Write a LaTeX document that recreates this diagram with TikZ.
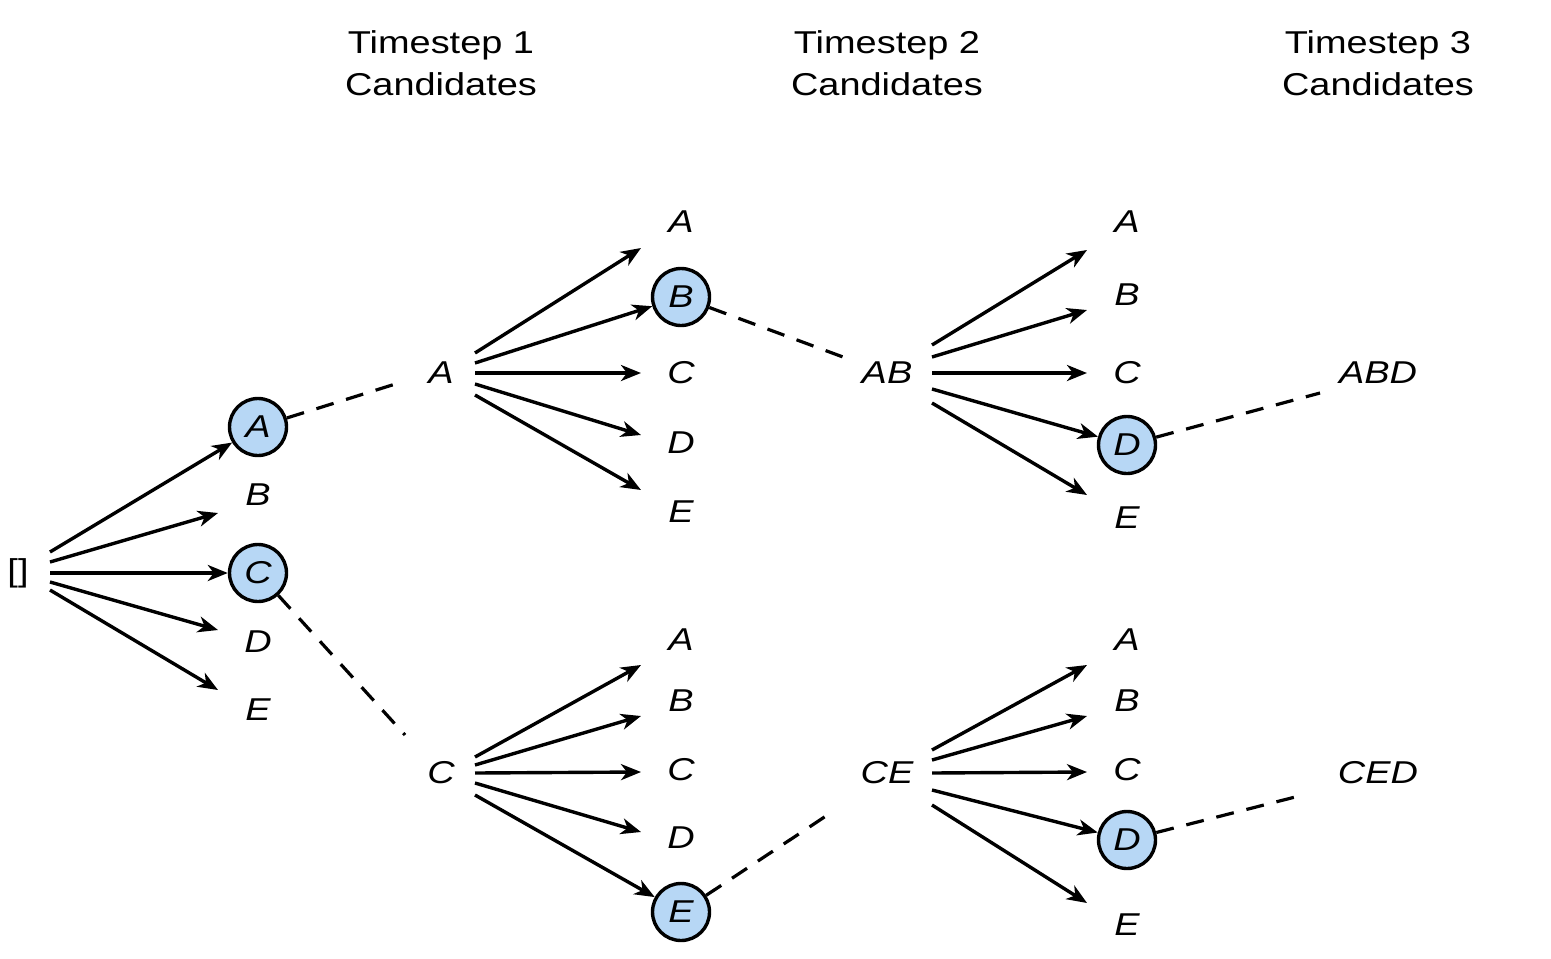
\documentclass[tikz,border=0pt]{standalone}
\usepackage{fontspec}
\setmainfont{Liberation Sans}[FakeStretch=1.2]
\usetikzlibrary{arrows.meta}
\definecolor{selblue}{RGB}{183,215,245}
\begin{document}
\begin{tikzpicture}[x=0.5pt,y=-0.5pt,
  every node/.style={font=\fontsize{15.8pt}{21pt}\selectfont, inner sep=0pt},
  lab/.style={font=\fontsize{15.8pt}{21pt}\selectfont\itshape},
  sel/.style={circle, draw, line width=1.7pt, fill=selblue, minimum size=28.5pt, inner sep=0pt, font=\fontsize{15.8pt}{21pt}\selectfont\itshape},
  arr/.style={line width=1.7pt, -{Stealth[length=10pt,width=8pt,inset=3pt]}},
  dsh/.style={line width=1.6pt, dash pattern=on 9pt off 6.5pt},
  head/.style={align=center}]
\useasboundingbox (0,0) rectangle (1551,958);

% headers
\node[head] (h1) at (441,63) {Timestep 1\\Candidates};
\node[head] (h2) at (887,63) {Timestep 2\\Candidates};
\node[head] (h3) at (1378,63) {Timestep 3\\Candidates};

% root
\node (r) at (18,573) {[]};

% column 1
\node[sel] (n1a) at (258,427) {A};
\node[lab] (n1b) at (258,495) {B};
\node[sel] (n1c) at (258,573) {C};
\node[lab] (n1d) at (258,642) {D};
\node[lab] (n1e) at (258,710) {E};

% column 2
\node[lab] (pA) at (441,373) {A};
\node[lab] (pC) at (441,773) {C};

% column 3 top
\node[lab] (t3a) at (681,222) {A};
\node[sel] (t3b) at (681,297) {B};
\node[lab] (t3c) at (681,373) {C};
\node[lab] (t3d) at (681,443) {D};
\node[lab] (t3e) at (681,512) {E};
% column 3 bottom
\node[lab] (b3a) at (681,640) {A};
\node[lab] (b3b) at (681,701) {B};
\node[lab] (b3c) at (681,770) {C};
\node[lab] (b3d) at (681,838) {D};
\node[sel] (b3e) at (681,912) {E};

% column 4
\node[lab] (pAB) at (887,373) {AB};
\node[lab] (pCE) at (887,773) {CE};

% column 5 top
\node[lab] (t5a) at (1127,222) {A};
\node[lab] (t5b) at (1127,295) {B};
\node[lab] (t5c) at (1127,373) {C};
\node[sel] (t5d) at (1127,445) {D};
\node[lab] (t5e) at (1127,518) {E};
% column 5 bottom
\node[lab] (b5a) at (1127,640) {A};
\node[lab] (b5b) at (1127,701) {B};
\node[lab] (b5c) at (1127,770) {C};
\node[sel] (b5d) at (1127,840) {D};
\node[lab] (b5e) at (1127,925) {E};

% column 6
\node[lab] (pABD) at (1378,373) {ABD};
\node[lab] (pCED) at (1378,773) {CED};

% fan 1
\draw[arr] ([shift={(32,-21)}]r.center) -- (n1a);
\draw[arr] ([shift={(32,-11)}]r.center) -- ([shift={(-40,18)}]n1b.center);
\draw[arr] ([shift={(32,0)}]r.center) -- (n1c);
\draw[arr] ([shift={(32,9)}]r.center) -- ([shift={(-40,-12)}]n1d.center);
\draw[arr] ([shift={(32,17)}]r.center) -- ([shift={(-40,-20)}]n1e.center);

% fan 2
\draw[arr] ([shift={(34,-20)}]pA.center) -- ([shift={(-40,26)}]t3a.center);
\draw[arr] ([shift={(34,-10)}]pA.center) -- (t3b);
\draw[arr] ([shift={(34,0)}]pA.center) -- ([shift={(-40,0)}]t3c.center);
\draw[arr] ([shift={(34,11)}]pA.center) -- ([shift={(-40,-8)}]t3d.center);
\draw[arr] ([shift={(34,22)}]pA.center) -- ([shift={(-40,-22)}]t3e.center);

% fan 3
\draw[arr] ([shift={(45,-28)}]pAB.center) -- ([shift={(-40,28)}]t5a.center);
\draw[arr] ([shift={(45,-16)}]pAB.center) -- ([shift={(-40,15)}]t5b.center);
\draw[arr] ([shift={(45,0)}]pAB.center) -- ([shift={(-40,0)}]t5c.center);
\draw[arr] ([shift={(45,16)}]pAB.center) -- (t5d);
\draw[arr] ([shift={(45,30)}]pAB.center) -- ([shift={(-40,-23)}]t5e.center);

% fan 4
\draw[arr] ([shift={(34,-16)}]pC.center) -- ([shift={(-40,25)}]b3a.center);
\draw[arr] ([shift={(34,-8)}]pC.center) -- ([shift={(-40,15)}]b3b.center);
\draw[arr] ([shift={(34,0)}]pC.center) -- ([shift={(-40,2)}]b3c.center);
\draw[arr] ([shift={(34,10)}]pC.center) -- ([shift={(-40,-6)}]b3d.center);
\draw[arr] ([shift={(34,22)}]pC.center) -- (b3e);

% fan 5
\draw[arr] ([shift={(45,-23)}]pCE.center) -- ([shift={(-40,25)}]b5a.center);
\draw[arr] ([shift={(45,-13)}]pCE.center) -- ([shift={(-40,15)}]b5b.center);
\draw[arr] ([shift={(45,0)}]pCE.center) -- ([shift={(-40,2)}]b5c.center);
\draw[arr] ([shift={(45,17)}]pCE.center) -- (b5d);
\draw[arr] ([shift={(45,32)}]pCE.center) -- ([shift={(-40,-22)}]b5e.center);

% dashed links
\draw[dsh] (n1a) -- ([shift={(-36,8)}]pA.center);
\draw[dsh] (n1c) -- ([shift={(-36,-38)}]pC.center);
\draw[dsh] (t3b) -- ([shift={(-44,-16)}]pAB.center);
\draw[dsh] (b3e) -- ([shift={(-55,39)}]pCE.center);
\draw[dsh] (t5d) -- ([shift={(-58,20)}]pABD.center);
\draw[dsh] (b5d) -- ([shift={(-75,22)}]pCED.center);
\end{tikzpicture}
\end{document}
